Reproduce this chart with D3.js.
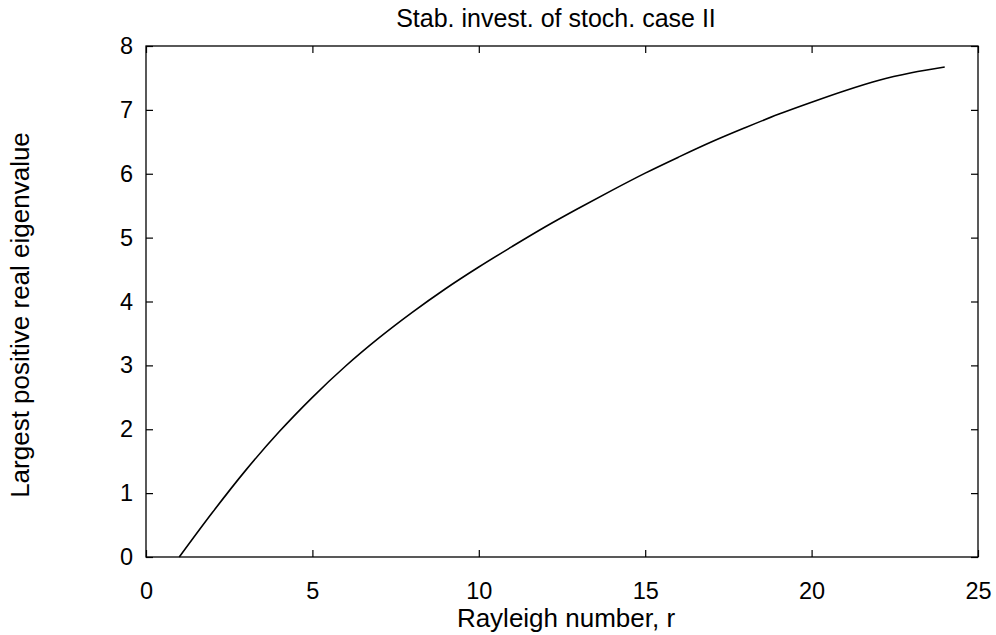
<!DOCTYPE html>
<html>
<head>
<meta charset="utf-8">
<script src="https://cdn.jsdelivr.net/npm/d3@7"></script>
<style>
  html, body { margin: 0; padding: 0; background: #fff; }
  svg { display: block; }
  text { font-family: "Liberation Sans", Arial, Helvetica, sans-serif; fill: #000; }
</style>
</head>
<body>
<svg id="chart" width="996" height="635"></svg>
<script>
const titleText = "Stab. invest. of stoch. case II";
const xLabel = "Rayleigh number, r";
const yLabel = "Largest positive real eigenvalue";
const xTicks = [0, 5, 10, 15, 20, 25];
const yTicks = [0, 1, 2, 3, 4, 5, 6, 7, 8];
const rayleigh = [1, 2, 3, 4, 5, 6, 7, 8, 9, 10, 11, 12, 13, 14, 15, 16, 17, 18, 19, 20, 21, 22, 23, 24];
const eigen   = [0, 0.70, 1.36, 1.96, 2.50, 2.99, 3.43, 3.83, 4.20, 4.54, 4.86, 5.17, 5.46, 5.74, 6.01, 6.26, 6.50, 6.72, 6.93, 7.12, 7.30, 7.46, 7.58, 7.67];

const svg = d3.select("#chart");
const m = { left: 146, right: 978, top: 46, bottom: 557 };
const x = d3.scaleLinear().domain([0, 25]).range([m.left, m.right]);
const y = d3.scaleLinear().domain([0, 8]).range([m.bottom, m.top]);
const tickLen = 7;
const fs = 23.5;

// frame
svg.append("rect")
  .attr("x", m.left).attr("y", m.top)
  .attr("width", m.right - m.left).attr("height", m.bottom - m.top)
  .attr("fill", "none").attr("stroke", "#000").attr("stroke-width", 1.3);

// axes with inward ticks (mirrored)
const gBottom = svg.append("g").attr("transform", `translate(0,${m.bottom})`)
  .call(d3.axisBottom(x).tickValues(xTicks).tickSize(-tickLen).tickPadding(25));
const gTop = svg.append("g").attr("transform", `translate(0,${m.top})`)
  .call(d3.axisTop(x).tickValues(xTicks).tickSize(-tickLen).tickFormat(""));
const gLeft = svg.append("g").attr("transform", `translate(${m.left},0)`)
  .call(d3.axisLeft(y).tickValues(yTicks).tickSize(-tickLen).tickPadding(13));
const gRight = svg.append("g").attr("transform", `translate(${m.right},0)`)
  .call(d3.axisRight(y).tickValues(yTicks).tickSize(-tickLen).tickFormat(""));

[gBottom, gTop, gLeft, gRight].forEach(g => {
  g.select(".domain").remove();
  g.selectAll(".tick line").attr("stroke", "#000").attr("stroke-width", 1.2);
  g.selectAll("text").attr("font-size", fs).attr("font-family", "Liberation Sans, Arial, sans-serif").attr("fill", "#000");
});

// curve
const data = rayleigh.map((r, i) => ({ r, v: eigen[i] }));
svg.append("path")
  .datum(data)
  .attr("fill", "none")
  .attr("stroke", "#000")
  .attr("stroke-width", 1.6)
  .attr("d", d3.line().x(d => x(d.r)).y(d => y(d.v)).curve(d3.curveMonotoneX));

// title
svg.append("text")
  .attr("x", 556).attr("y", 27)
  .attr("text-anchor", "middle").attr("font-size", 25)
  .text(titleText);

// x label
svg.append("text")
  .attr("x", 566).attr("y", 627)
  .attr("text-anchor", "middle").attr("font-size", 26)
  .text(xLabel);

// y label
svg.append("text")
  .attr("transform", "translate(29,315) rotate(-90)")
  .attr("text-anchor", "middle").attr("font-size", 26)
  .text(yLabel);
</script>
</body>
</html>
